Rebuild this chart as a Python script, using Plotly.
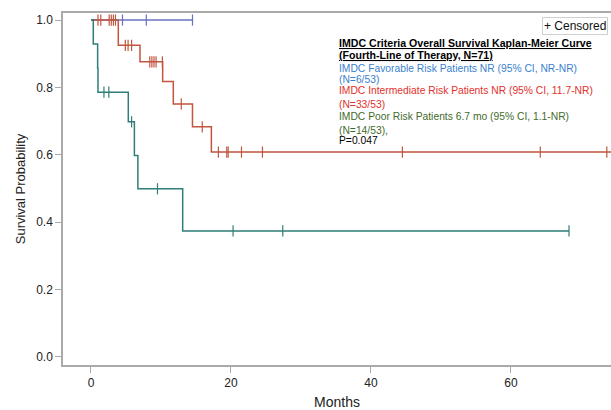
import numpy as np
import plotly.graph_objects as go

# ---- data ----
fav_time = [0, 14.6]
fav_surv = [1.0, 1.0]
fav_cens = [4.5, 7.9, 14.5]

int_time = [0, 3.9, 7.0, 10.24, 11.76, 14.5, 17.2, 75.0]
int_surv = [1.0, 0.925, 0.876, 0.818, 0.751, 0.683, 0.608, 0.608]
int_cens = [1.0, 1.4, 2.6, 2.9, 3.2, 3.5, 4.9, 5.3, 5.8, 8.4, 8.7, 9.0, 9.3,
            10.2, 12.9, 15.9, 18.2, 19.4, 19.6, 21.5, 24.5, 44.5, 64.2, 73.7]

poor_time = [0, 0.33, 0.95, 1.0, 5.33, 6.2, 6.7, 13.1, 68.3]
poor_surv = [1.0, 0.929, 0.857, 0.786, 0.698, 0.598, 0.499, 0.374, 0.374]
poor_cens = [1.85, 2.55, 5.8, 9.5, 20.3, 27.4, 68.3]

x_ticks = [0, 20, 40, 60]
y_ticks = [0.0, 0.2, 0.4, 0.6, 0.8, 1.0]

FONT = "Arial, Liberation Sans, sans-serif"


def step_at(times, surv, t):
    idx = np.searchsorted(np.asarray(times), t, side="right") - 1
    return [surv[i] for i in idx]


fig = go.Figure()
series = [
    (fav_time, fav_surv, fav_cens, "#6a6fc0"),
    (int_time, int_surv, int_cens, "#c1553f"),
    (poor_time, poor_surv, poor_cens, "#2f7f78"),
]
for t, s, c, col in series:
    fig.add_trace(go.Scatter(x=t, y=s, mode="lines", line=dict(color=col, width=1.5, shape="hv"),
                             showlegend=False, hoverinfo="skip"))
    fig.add_trace(go.Scatter(x=c, y=step_at(t, s, c), mode="markers",
                             marker=dict(symbol="line-ns-open", size=8, color=col,
                                         line=dict(color=col, width=1.2)),
                             showlegend=False, hoverinfo="skip"))

W, H = 611, 410
L, R, T, B = 63, 0, 13, 410 - 365
pw, ph = W - L - R, H - T - B


def px(x):  # page pixel -> paper
    return (x - L) / pw


def py(y):
    return (H - B - y) / ph


ann = []
ann.append(dict(text="+ Censored", x=px(608), y=py(25.5), xanchor="right", yanchor="middle",
                font=dict(size=12, color="#111", family=FONT), bordercolor="#d0d0d0", borderwidth=1,
                borderpad=1, bgcolor="white"))
lines = [
    ("<b><u>IMDC Criteria Overall Survival Kaplan-Meier Curve</u></b>", 42.5, "#000000", 10.6),
    ("<b><u>(Fourth-Line of Therapy, N=71)</u></b>", 54.5, "#000000", 10.6),
    ("IMDC Favorable Risk Patients NR (95% CI, NR-NR)", 68.3, "#3b7fcf", 10.3),
    ("(N=6/53)", 79, "#3b7fcf", 10.3),
    ("IMDC Intermediate Risk Patients NR (95% CI, 11.7-NR)", 90, "#e3302c", 10.3),
    ("(N=33/53)", 104.3, "#e3302c", 10.3),
    ("IMDC Poor Risk Patients 6.7 mo (95% CI, 1.1-NR)", 116.7, "#3f6b2c", 10.3),
    ("(N=14/53),", 130.5, "#3f6b2c", 10.3),
    ("P=0.047", 140.5, "#000000", 10.3),
]
for txt, yy, col, fs in lines:
    ann.append(dict(text=txt, x=px(337), y=py(yy), xanchor="left", yanchor="middle",
                    font=dict(size=fs, color=col, family=FONT)))
for a in ann:
    a.update(xref="paper", yref="paper", showarrow=False)

fig.update_layout(
    width=W, height=H,
    margin=dict(l=L, r=R, t=T, b=B, autoexpand=False),
    paper_bgcolor="white", plot_bgcolor="white",
    font=dict(family=FONT, color="#222"),
    annotations=ann,
    xaxis=dict(range=[-4, 74.3], tickvals=x_ticks, ticks="outside", ticklen=6, tickcolor="#aaaaaa",
               showline=True, linecolor="#aaaaaa", linewidth=1.5, mirror=True, showgrid=False,
               zeroline=False, tickfont=dict(size=12, color="#222"), automargin=False,
               title=dict(text="Months", font=dict(size=14, color="#222"), standoff=10)),
    yaxis=dict(range=[-0.024, 1.021], tickvals=y_ticks, tickformat=".1f", ticks="outside", ticklen=6,
               tickcolor="#aaaaaa", showline=True, linecolor="#aaaaaa", linewidth=1.5, showgrid=False,
               zeroline=False, tickfont=dict(size=12, color="#222"), automargin=False,
               title=dict(text="Survival Probability", font=dict(size=13, color="#222"), standoff=8)),
)

fig.write_html("out.html", config={"displayModeBar": False},
               post_script="document.body.style.margin='0';document.body.style.overflow='hidden';")
